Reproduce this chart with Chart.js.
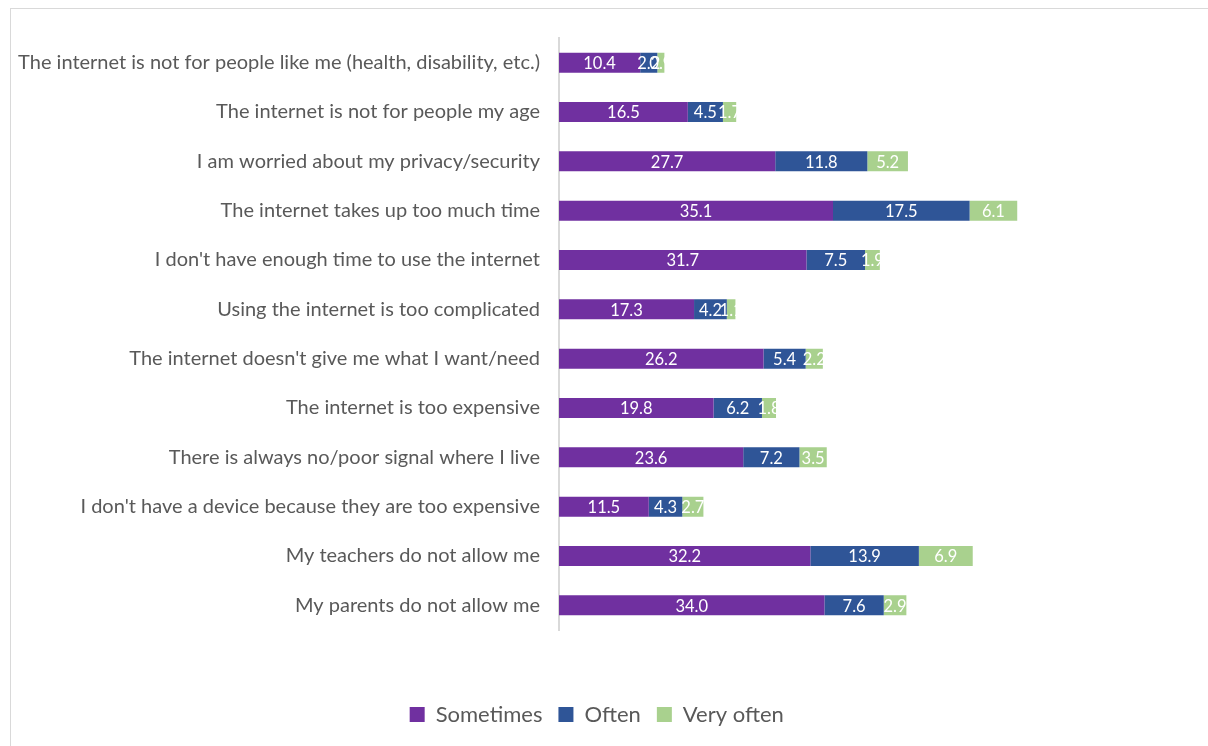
<!DOCTYPE html>
<html>
<head>
<meta charset="utf-8">
<style>
  html, body { margin: 0; padding: 0; background: #ffffff; overflow: hidden; }
  #frame { position: absolute; left: 10px; top: 8px; width: 1300px; height: 900px; border: 1px solid #d9d9d9; }
  #wrap { position: absolute; left: 0; top: 0; width: 1208px; height: 746px; }
</style>
<script src="https://cdn.jsdelivr.net/npm/chart.js@4.4.1/dist/chart.umd.min.js"></script>
</head>
<body>
<div id="frame"></div>
<div id="wrap"><canvas id="c" width="1208" height="746"></canvas></div>
<script>
const categories = [
  "The internet is not for people like me (health, disability, etc.)",
  "The internet is not for people my age",
  "I am worried about my privacy/security",
  "The internet takes up too much time",
  "I don't have enough time to use the internet",
  "Using the internet is too complicated",
  "The internet doesn't give me what I want/need",
  "The internet is too expensive",
  "There is always no/poor signal where I live",
  "I don't have a device because they are too expensive",
  "My teachers do not allow me",
  "My parents do not allow me"
];
const sometimes = [10.4, 16.5, 27.7, 35.1, 31.7, 17.3, 26.2, 19.8, 23.6, 11.5, 32.2, 34.0];
const often     = [2.2, 4.5, 11.8, 17.5, 7.5, 4.2, 5.4, 6.2, 7.2, 4.3, 13.9, 7.6];
const veryOften = [0.9, 1.7, 5.2, 6.1, 1.9, 1.1, 2.2, 1.8, 3.5, 2.7, 6.9, 2.9];
const seriesNames = ["Sometimes", "Often", "Very often"];

const FONT = "Lato, 'Open Sans', sans-serif";

// White value labels centred inside each bar segment
const barValueLabels = {
  id: 'barValueLabels',
  afterDatasetsDraw(chart) {
    const ctx = chart.ctx;
    ctx.save();
    ctx.font = "16.5px " + FONT;
    ctx.fillStyle = "#ffffff";
    ctx.textAlign = "center";
    ctx.textBaseline = "middle";
    chart.data.datasets.forEach((ds, di) => {
      const meta = chart.getDatasetMeta(di);
      meta.data.forEach((bar, i) => {
        const v = ds.data[i];
        const cx = (bar.x + bar.base) / 2;
        ctx.fillText(v.toFixed(1), cx, bar.y + 1);
      });
    });
    ctx.restore();
  }
};

new Chart(document.getElementById('c'), {
  type: 'bar',
  data: {
    labels: categories,
    datasets: [
      { label: seriesNames[0], data: sometimes, backgroundColor: '#7030A0' },
      { label: seriesNames[1], data: often, backgroundColor: '#2F5597' },
      { label: seriesNames[2], data: veryOften, backgroundColor: '#A9D18E' }
    ]
  },
  options: {
    indexAxis: 'y',
    responsive: false,
    animation: false,
    devicePixelRatio: 1,
    categoryPercentage: 1,
    barPercentage: 0.405,
    layout: { padding: { top: 38, left: 10, right: 24.5, bottom: 10.5 } },
    scales: {
      x: {
        stacked: true,
        min: 0,
        max: 80,
        grid: { display: false, drawTicks: false },
        border: { display: false },
        ticks: { display: false },
        afterFit(s) { s.height = 57.5; }
      },
      y: {
        stacked: true,
        grid: { display: false, drawTicks: false, tickLength: 0 },
        border: { display: true, color: '#d9d9d9', width: 2 },
        ticks: { color: '#595959', font: { family: FONT, size: 20 }, padding: 19 },
        afterFit(s) { s.width = 549; }
      }
    },
    plugins: {
      legend: {
        position: 'bottom',
        labels: {
          color: '#595959',
          font: { family: FONT, size: 22 },
          boxWidth: 15,
          boxHeight: 15,
          padding: 16
        }
      },
      tooltip: { enabled: false }
    }
  },
  plugins: [barValueLabels]
});
</script>
</body>
</html>
